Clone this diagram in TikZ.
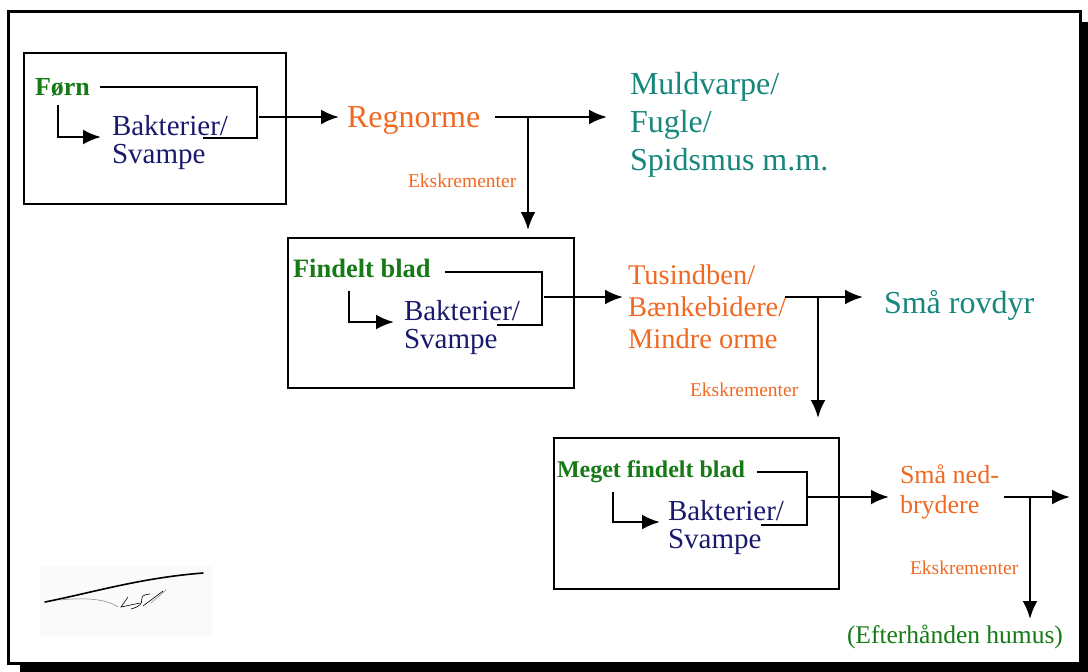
\documentclass[tikz,border=0pt]{standalone}
\usepackage{fontspec}
\setmainfont{Liberation Serif}
\usetikzlibrary{arrows.meta}
\definecolor{cgreen}{RGB}{22,122,22}
\definecolor{corange}{RGB}{240,105,35}
\definecolor{cteal}{RGB}{22,135,125}
\definecolor{cnavy}{RGB}{25,25,110}
\tikzset{
  box/.style={draw=black,line width=2.4},
  link/.style={line width=2.6},
  arr/.style={line width=2.6,-{Latex[length=18,width=15]}},
  txt/.style={inner sep=0,outer sep=0,anchor=base west},
  bact/.style={txt,text=cnavy,font=\fontsize{29}{28}\selectfont,align=left},
  src/.style={txt,text=cgreen,font=\bfseries\fontsize{26}{28}\selectfont},
  orng/.style={txt,text=corange},
  teal/.style={txt,text=cteal},
  eks/.style={txt,text=corange,font=\fontsize{19.5}{20}\selectfont},
}
\begin{document}
\begin{tikzpicture}[x=1pt,y=-1pt]
\useasboundingbox (0,0) rectangle (1088,672);
% shadow and frame
\fill[black] (20,22) rectangle (1088,672);
\draw[line width=3,fill=white] (8,11) rectangle (1080,663);
\fill[black!2] (40,566) rectangle (212,636);

% ---------- stage 1 ----------
\node[box,minimum width=262,minimum height=151,anchor=north west] (b1) at (23,52) {};
\node[src] (forn) at (35,95) {Førn};
\node[bact] (bak1) at (112,163) {Bakterier/\\Svampe};
\coordinate (f1a) at (100,87);
\coordinate (f1b) at (257,87);
\coordinate (f1c) at (257,138);
\coordinate (f1d) at (203,138);
\draw[link] (f1a) -- (f1b) -- (f1c) -- (f1d);
\coordinate (a1s) at (58,105);
\coordinate (a1e) at (101,137);
\draw[arr] (a1s) |- (a1e);
\coordinate (o1) at (259,117);
\node[orng,font=\fontsize{32}{34}\selectfont] (regn) at (347,127) {Regnorme};
\draw[arr] (o1) -- (339,117);
\node[teal,font=\fontsize{32}{38}\selectfont,align=left] (muld) at (630,170) {Muldvarpe/\\Fugle/\\Spidsmus m.m.};
\coordinate (r1) at (495,117);
\coordinate (r1j) at (528,117);
\draw[link] (r1) -- (r1j);
\draw[arr] (r1j) -- (607,117);
\node[eks] (eks1) at (408,187) {Ekskrementer};
\draw[arr] (r1j) -- (528,230);

% ---------- stage 2 ----------
\node[box,minimum width=286,minimum height=150,anchor=north west] (b2) at (287,237) {};
\node[src,font=\bfseries\fontsize{26.5}{28}\selectfont] (find) at (293,277) {Findelt blad};
\node[bact] (bak2) at (404,348) {Bakterier/\\Svampe};
\coordinate (f2a) at (445,272);
\coordinate (f2b) at (542,272);
\coordinate (f2c) at (542,325);
\coordinate (f2d) at (497,325);
\draw[link] (f2a) -- (f2b) -- (f2c) -- (f2d);
\coordinate (a2s) at (349,291);
\coordinate (a2e) at (394,322);
\draw[arr] (a2s) |- (a2e);
\coordinate (o2) at (544,297);
\node[orng,font=\fontsize{28.5}{32}\selectfont,align=left] (tus) at (628,348) {Tusindben/\\Bænkebidere/\\Mindre orme};
\draw[arr] (o2) -- (623,297);
\coordinate (t2) at (785,297);
\coordinate (t2j) at (818,297);
\draw[link] (t2) -- (t2j);
\draw[arr] (t2j) -- (863,297);
\node[teal,font=\fontsize{32}{34}\selectfont] (rov) at (884,313) {Små rovdyr};
\node[eks] (eks2) at (690,396) {Ekskrementer};
\draw[arr] (t2j) -- (818,418);

% ---------- stage 3 ----------
\node[box,minimum width=285,minimum height=151,anchor=north west] (b3) at (553,437) {};
\node[src,font=\bfseries\fontsize{24}{28}\selectfont] (meget) at (557,477) {Meget findelt blad};
\node[bact] (bak3) at (668,548) {Bakterier/\\Svampe};
\coordinate (f3a) at (757,472);
\coordinate (f3b) at (807,472);
\coordinate (f3c) at (807,525);
\coordinate (f3d) at (761,525);
\draw[link] (f3a) -- (f3b) -- (f3c) -- (f3d);
\coordinate (a3s) at (613,492);
\coordinate (a3e) at (660,522);
\draw[arr] (a3s) |- (a3e);
\coordinate (o3) at (808,497);
\node[orng,font=\fontsize{26}{30}\selectfont,align=left] (ned) at (900,513) {Små ned-\\brydere};
\draw[arr] (o3) -- (889,497);
\coordinate (n3) at (1004,497);
\coordinate (n3j) at (1030,497);
\draw[link] (n3) -- (n3j);
\draw[arr] (n3j) -- (1070,497);
\node[eks] (eks3) at (910,574) {Ekskrementer};
\draw[arr] (n3j) -- (1030,619);
\node[txt,text=cgreen,font=\fontsize{25.5}{26}\selectfont] (humus) at (847,643) {(Efterhånden humus)};

% ---------- signature ----------
\draw[line width=1.6,line cap=round] (45,602) .. controls (95,592) and (140,578) .. (203,573);
\draw[line width=0.5,gray] (60,600) .. controls (90,597) and (108,600) .. (118,607);
\draw[line width=0.6] (128,597) -- (121,607) -- (140,603);
\draw[line width=0.6] (150,594) .. controls (132,596) and (152,603) .. (131,609);
\draw[line width=0.6] (143,606) -- (163,591);
\draw[line width=0.5,gray] (151,603) -- (166,590);
\end{tikzpicture}
\end{document}
